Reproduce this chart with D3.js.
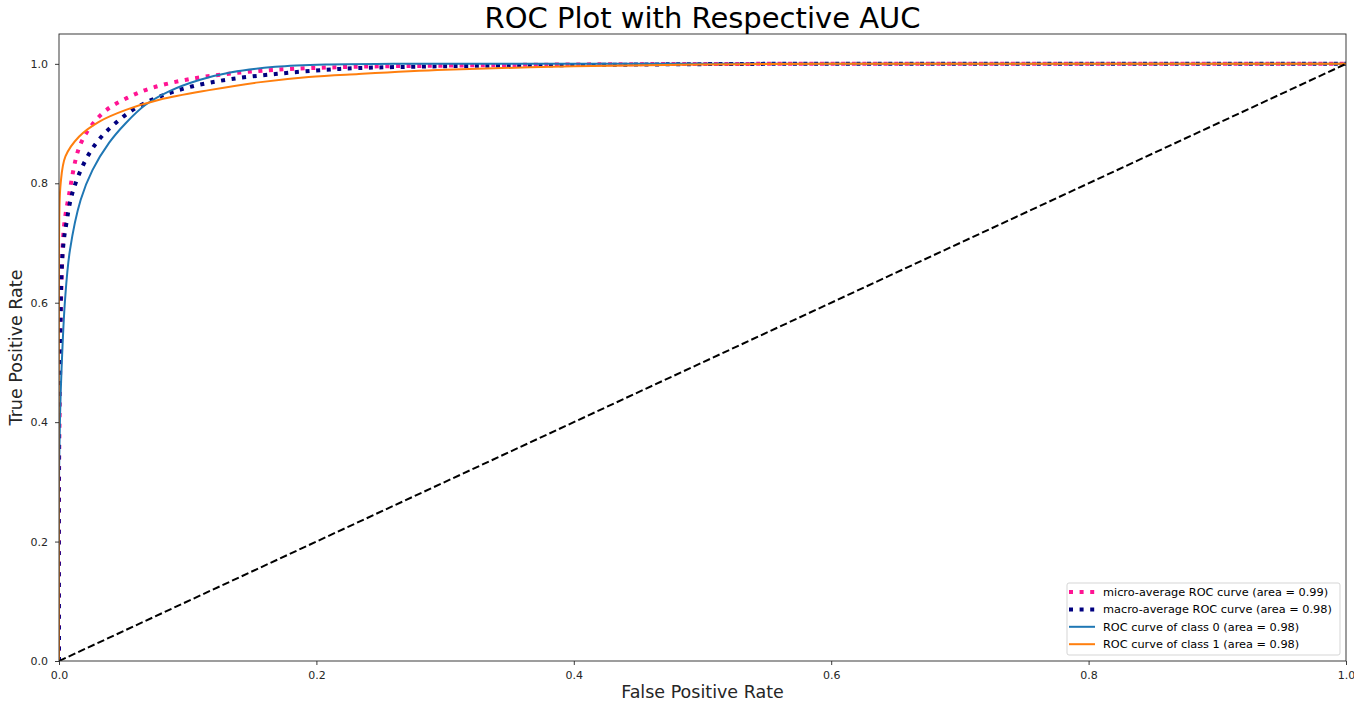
<!DOCTYPE html>
<html>
<head>
<meta charset="utf-8">
<script src="https://cdn.jsdelivr.net/npm/d3@7"></script>
<style>
  body { margin: 0; background: #fff; }
  svg { font-family: "DejaVu Sans", sans-serif; }
</style>
</head>
<body>
<svg width="1354" height="704"></svg>
<script>
// ROC curves
var microFpr = [0, 0, 0.001, 0.002, 0.004, 0.0078, 0.0155, 0.0246, 0.037, 0.053, 0.071, 0.098, 0.13, 0.168, 0.228, 0.3, 0.4, 0.55, 1]
var microTpr = [0, 0.3, 0.5, 0.64, 0.73, 0.781, 0.859, 0.895, 0.923, 0.943, 0.959, 0.973, 0.983, 0.99, 0.995, 0.997, 0.999, 1, 1]

var macroFpr = [0, 0, 0.001, 0.002, 0.0035, 0.0055, 0.0104, 0.0207, 0.031, 0.044, 0.0596, 0.078, 0.103, 0.132, 0.168, 0.207, 0.233, 0.3, 0.4, 0.55, 1]
var macroTpr = [0, 0.4, 0.55, 0.65, 0.7, 0.73, 0.784, 0.839, 0.873, 0.901, 0.926, 0.945, 0.962, 0.974, 0.983, 0.99, 0.993, 0.996, 0.998, 1, 1]

var class0Fpr = [0, 0, 0.0008, 0.002, 0.0047, 0.0085, 0.0168, 0.026, 0.039, 0.052, 0.067, 0.0855, 0.109, 0.134, 0.168, 0.207, 0.26, 0.35, 1]
var class0Tpr = [0, 0.3, 0.41, 0.49, 0.605, 0.688, 0.772, 0.822, 0.868, 0.901, 0.931, 0.954, 0.973, 0.986, 0.995, 0.999, 1, 1, 1]

var class1Fpr = [0, 0, 0.0013, 0.005, 0.0155, 0.031, 0.052, 0.078, 0.1166, 0.155, 0.194, 0.233, 0.3, 0.4, 0.5, 0.6, 1]
var class1Tpr = [0, 0.7, 0.8, 0.845, 0.878, 0.903, 0.923, 0.94, 0.956, 0.969, 0.978, 0.983, 0.99, 0.996, 0.999, 1, 1]

var diagFpr = [0, 1]
var diagTpr = [0, 1]

var legendLabels = [
    'micro-average ROC curve (area = 0.99)',
    'macro-average ROC curve (area = 0.98)',
    'ROC curve of class 0 (area = 0.98)',
    'ROC curve of class 1 (area = 0.98)'
]
var ticks = [0, 0.2, 0.4, 0.6, 0.8, 1.0]

var margin = {top: 34, right: 8, bottom: 43, left: 59}
var width = 1354 - margin.left - margin.right
var height = 704 - margin.top - margin.bottom

var svg = d3.select('svg')

var x_scale = d3.scaleLinear().domain([0, 1]).range([0, width])
var y_scale = d3.scaleLinear().domain([0, 1.05]).range([height, 0])

var g = svg.append('g').attr('transform', 'translate(' + margin.left + ',' + margin.top + ')')

g.append('clipPath').attr('id', 'clip')
    .append('rect').attr('width', width).attr('height', height)

var series = [
    {fpr: microFpr, tpr: microTpr, color: 'deeppink', w: 4, dash: '4,6.6', smooth: true},
    {fpr: macroFpr, tpr: macroTpr, color: 'navy', w: 4, dash: '4,6.6', smooth: true},
    {fpr: class0Fpr, tpr: class0Tpr, color: '#1f77b4', w: 2, dash: null, smooth: true},
    {fpr: class1Fpr, tpr: class1Tpr, color: '#ff7f0e', w: 2, dash: null, smooth: true},
    {fpr: diagFpr, tpr: diagTpr, color: 'black', w: 2, dash: '7.4,3.2', smooth: false}
]

var plot = g.append('g').attr('clip-path', 'url(#clip)')
series.forEach(function (s) {
    var line = d3.line()
        .x(function (d) { return x_scale(d[0]) })
        .y(function (d) { return y_scale(d[1]) })
        .curve(s.smooth ? d3.curveCatmullRom.alpha(0.5) : d3.curveLinear)
    plot.append('path')
        .datum(d3.zip(s.fpr, s.tpr))
        .attr('d', line)
        .attr('fill', 'none')
        .attr('stroke', s.color)
        .attr('stroke-width', s.w)
        .attr('stroke-dasharray', s.dash)
})

// axes
var x_axis = d3.axisBottom(x_scale).tickValues(ticks).tickFormat(d3.format('.1f')).tickSize(4).tickPadding(6.5)
var y_axis = d3.axisLeft(y_scale).tickValues(ticks).tickFormat(d3.format('.1f')).tickSize(4).tickPadding(7)

var xa = g.append('g').attr('transform', 'translate(0,' + height + ')').call(x_axis)
var ya = g.append('g').call(y_axis)
;[xa, ya].forEach(function (a) {
    a.select('.domain').remove()
    a.selectAll('text').attr('font-size', 11).attr('fill', '#262626').attr('font-family', 'DejaVu Sans')
    a.selectAll('line').attr('stroke', '#262626').attr('stroke-width', 0.9)
})

g.append('rect')
    .attr('width', width).attr('height', height)
    .attr('fill', 'none').attr('stroke', '#262626').attr('stroke-width', 0.9)

// labels
svg.append('text').attr('x', margin.left + width / 2).attr('y', 28)
    .attr('text-anchor', 'middle').attr('font-size', 29).attr('fill', '#000')
    .text('ROC Plot with Respective AUC')
svg.append('text').attr('x', margin.left + width / 2).attr('y', 698)
    .attr('text-anchor', 'middle').attr('font-size', 17.5).attr('fill', '#262626')
    .text('False Positive Rate')
svg.append('text').attr('transform', 'translate(22,' + (margin.top + height / 2) + ') rotate(-90)')
    .attr('text-anchor', 'middle').attr('font-size', 17.5).attr('fill', '#262626')
    .text('True Positive Rate')

// legend
var lg = svg.append('g').attr('transform', 'translate(1067,583)')
lg.append('rect').attr('width', 273).attr('height', 72).attr('rx', 2)
    .attr('fill', 'white').attr('fill-opacity', 0.8).attr('stroke', '#d0d0d0').attr('stroke-width', 0.9)
legendLabels.forEach(function (lab, i) {
    var s = series[i]
    var yy = 9 + i * 17.4
    lg.append('line').attr('x1', 2).attr('x2', 28).attr('y1', yy).attr('y2', yy)
        .attr('stroke', s.color).attr('stroke-width', s.w).attr('stroke-dasharray', s.dash)
    lg.append('text').attr('x', 36).attr('y', yy + 4)
        .attr('font-size', 11.3).attr('fill', '#000').text(lab)
})
</script>
</body>
</html>
